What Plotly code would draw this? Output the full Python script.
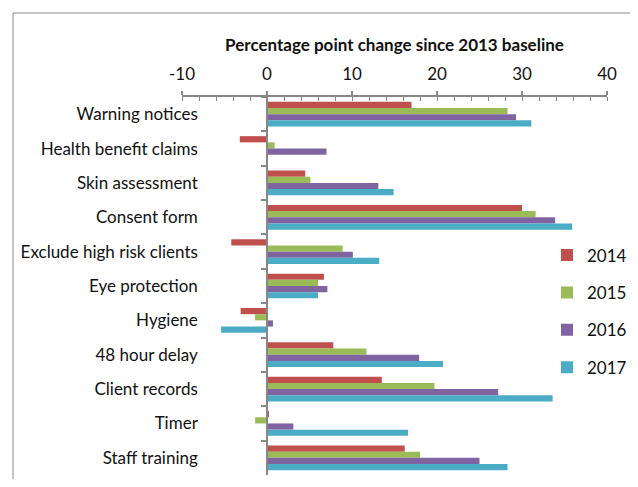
import plotly.graph_objects as go

categories = ["Warning notices", "Health benefit claims", "Skin assessment", "Consent form",
              "Exclude high risk clients", "Eye protection", "Hygiene", "48 hour delay",
              "Client records", "Timer", "Staff training"]
years = ["2014", "2015", "2016", "2017"]
v2014 = [17.0, -3.2, 4.5, 30.0, -4.2, 6.7, -3.1, 7.8, 13.5, 0.2, 16.2]
v2015 = [28.3, 0.9, 5.1, 31.6, 8.9, 6.0, -1.4, 11.7, 19.7, -1.4, 18.0]
v2016 = [29.3, 7.0, 13.1, 33.9, 10.1, 7.1, 0.7, 17.9, 27.2, 3.1, 25.0]
v2017 = [31.1, -0.1, 14.9, 35.9, 13.2, 6.0, -5.4, 20.7, 33.6, 16.6, 28.3]
colors = ["#C0504D", "#9BBB59", "#8064A2", "#4BACC6"]
x_ticks = [-10, 0, 10, 20, 30, 40]
x_tick_text = ["-10", "0", "10", "20", "30", "40"]
x_title = "Percentage point change since 2013 baseline"

FONT = "Lato"
fig = go.Figure()
for name, vals, col in zip(years, [v2014, v2015, v2016, v2017], colors):
    fig.add_trace(go.Bar(
        x=vals, y=categories, orientation="h", name=name, legendgroup=name,
        marker=dict(color=col, line=dict(width=0)),
    ))

# page body has an 8px margin, so figure coords = window coords - 8
OFF = 8
W, H = 622, 471
L, T = 182 - OFF, 97 - OFF
R = W - (607 - OFF)
B = H - (475 - OFF)
pw, ph = W - L - R, H - T - B

def px_x(x):
    return (x - OFF - L) / pw

def px_y(y):
    return (H - B - (y - OFF)) / ph

fig.update_layout(
    width=W, height=H,
    margin=dict(l=L, r=R, t=T, b=B, pad=0, autoexpand=False),
    paper_bgcolor="white", plot_bgcolor="white",
    barmode="group", bargap=0.28, bargroupgap=0,
    font=dict(family=FONT, size=17, color="#111111"),
    xaxis=dict(
        side="top", range=[-10, 40], tickvals=x_ticks, ticktext=x_tick_text,
        automargin=False, showgrid=False, zeroline=False,
        showline=True, linecolor="#888888", linewidth=1.5,
        ticks="outside", ticklen=4, tickcolor="#888888", tickwidth=1.5,
        ticklabelstandoff=4,
        minor=dict(dtick=2, ticks="inside", ticklen=4, tickcolor="#888888", tickwidth=1),
        tickfont=dict(family=FONT, size=17, color="#111111"),
        title=dict(text="<b>" + x_title + "</b>", standoff=8,
                   font=dict(family=FONT, size=17, color="#111111")),
    ),
    yaxis=dict(
        type="category", categoryorder="array", categoryarray=categories,
        range=[10.5, -0.5], anchor="free", position=0.2, automargin=False,
        showgrid=False, zeroline=False, showline=True, linecolor="#888888", linewidth=1.5,
        ticks="outside", tickson="boundaries", ticklen=5, tickcolor="#888888", tickwidth=1.5,
        ticklabelstandoff=65,
        tickfont=dict(family=FONT, size=17, color="#111111"),
    ),
    legend=dict(
        x=px_x(547), xanchor="left", y=px_y(237.5), yanchor="top",
        traceorder="grouped", tracegroupgap=12.3,
        font=dict(family=FONT, size=17, color="#111111"),
        bgcolor="rgba(0,0,0,0)",
    ),
    shapes=[dict(
        type="rect", xref="paper", yref="paper",
        x0=px_x(13), x1=px_x(700),
        y0=px_y(520), y1=px_y(13),
        line=dict(color="#8c8c8c", width=1), fillcolor="rgba(0,0,0,0)", layer="below",
    )],
)

fig.write_html("out.html")
